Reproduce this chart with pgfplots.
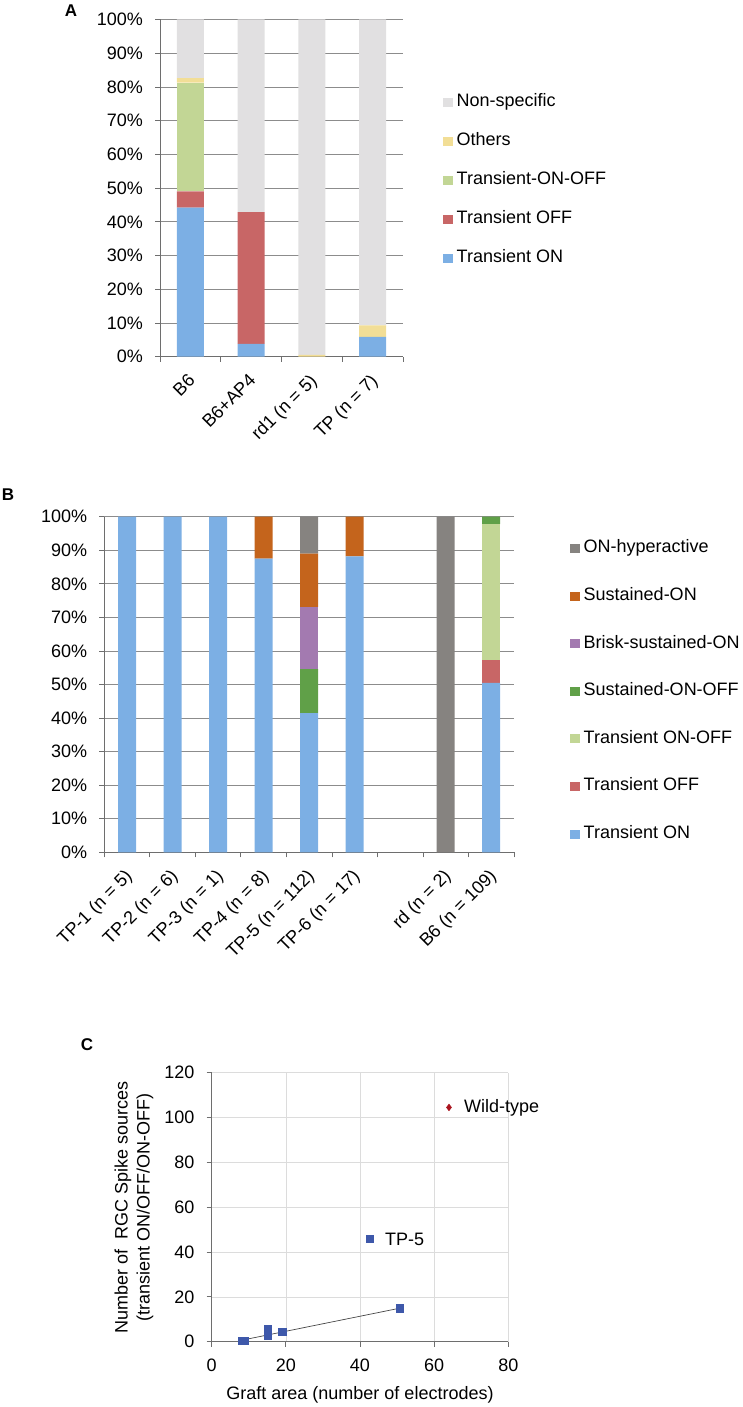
\documentclass[border=0pt]{standalone}
\usepackage{pgfplots}
\pgfplotsset{compat=1.18}
\usepackage{fontspec}
\setmainfont{Liberation Sans}
\definecolor{cON}{RGB}{124,175,228}
\definecolor{cOFF}{RGB}{200,102,102}
\definecolor{cONOFF}{RGB}{194,214,149}
\definecolor{cOth}{RGB}{242,222,150}
\definecolor{cNS}{RGB}{225,224,225}
\definecolor{cSOO}{RGB}{96,160,72}
\definecolor{cBrisk}{RGB}{163,122,176}
\definecolor{cSON}{RGB}{196,100,28}
\definecolor{cHyp}{RGB}{134,131,128}
\definecolor{cSc}{RGB}{62,88,170}
\definecolor{cWT}{RGB}{170,20,30}
\definecolor{cGrid}{RGB}{140,140,140}
\definecolor{cGridC}{RGB}{220,220,220}
\definecolor{cTrend}{RGB}{70,70,70}
\definecolor{cAx}{RGB}{110,110,110}
\begin{document}
\fontsize{18}{21}\selectfont
\begin{tikzpicture}
\useasboundingbox (0pt,0pt) rectangle (743pt,1407pt);
\pgfplotsset{
  lg/.style={legend image code/.code={\fill[##1,draw=none] (0pt,-4.5pt) rectangle (9.5pt,4.5pt);}},
  barax/.style={
    scale only axis, ybar stacked, ymin=0, ymax=100,
    ytick={0,10,...,100},
    yticklabel={\pgfmathprintnumber{\tick}\%},
    /pgf/number format/assume math mode=true,
    ymajorgrids, grid style={cGrid, line width=0.7pt},
    axis x line*=bottom, axis y line*=left,
    axis line style={cAx, line width=0.8pt},
    tick style={cAx, line width=0.8pt},
    tick align=outside,
    major tick length=5pt,
    every major x tick/.style={draw=none},
    minor tick length=5pt,
    every tick label/.style={font=\fontsize{18}{21}\selectfont},
    y tick label style={inner sep=0pt, xshift=-12pt},
    x tick label style={xshift=-3.3pt, yshift=-10.7pt, rotate=45, anchor=north east, inner sep=0pt},
    legend style={draw=none, fill=none, inner sep=0pt, column sep=4pt,
      font=\fontsize{18}{21}\selectfont,
      nodes={inner sep=0pt, text height=13pt, text depth=4pt, anchor=west}},
    reverse legend,
    legend cell align=left,
  }
}
% ---------------- Panel A ----------------
\begin{axis}[barax,
  at={(160pt,1050.3pt)}, anchor=south west,
  width=243pt, height=337.2pt,
  bar width=27pt,
  xmin=-0.5, xmax=3.5,
  xtick={0,1,2,3},
  xticklabels={B6, B6+AP4, rd1 (n = 5), TP (n = 7)},
  minor xtick={-0.5,0.5,1.5,2.5,3.5},
  legend style={at={(1.1646,0.7806)}, anchor=north west, row sep=22pt},
]
\addplot[fill=cON, draw=none, lg] coordinates {(0,44.2) (1,3.8) (2,0) (3,5.9)};
\addlegendentry{Transient ON}
\addplot[fill=cOFF, draw=none, lg] coordinates {(0,4.8) (1,39.1) (2,0) (3,0)};
\addlegendentry{Transient OFF}
\addplot[fill=cONOFF, draw=none, lg] coordinates {(0,32.3) (1,0) (2,0) (3,0)};
\addlegendentry{Transient-ON-OFF}
\addplot[fill=cOth, draw=none, lg] coordinates {(0,1.3) (1,0) (2,0.5) (3,3.4)};
\addlegendentry{Others}
\addplot[fill=cNS, draw=none, lg] coordinates {(0,17.4) (1,57.1) (2,99.5) (3,90.7)};
\addlegendentry{Non-specific}
\end{axis}
% ---------------- Panel B ----------------
\begin{axis}[barax,
  at={(104.3pt,554.7pt)}, anchor=south west,
  width=409.7pt, height=335.6pt,
  bar width=18pt,
  xmin=-0.5, xmax=8.5,
  xtick={0,1,2,3,4,5,7,8},
  xticklabels={TP-1 (n = 5), TP-2 (n = 6), TP-3 (n = 1), TP-4 (n = 8), TP-5 (n = 112), TP-6 (n = 17), rd (n = 2), B6 (n = 109)},
  minor xtick={-0.5,0.5,...,8.5},
  legend style={at={(1.1367,0.9312)}, anchor=north west, row sep=30.6pt},
]
\addplot[fill=cON, draw=none, lg] coordinates {(0,100) (1,100) (2,100) (3,87.5) (4,41.5) (5,88.2) (7,0) (8,50.5)};
\addlegendentry{Transient ON}
\addplot[fill=cOFF, draw=none, lg] coordinates {(0,0) (1,0) (2,0) (3,0) (4,0) (5,0) (7,0) (8,6.8)};
\addlegendentry{Transient OFF}
\addplot[fill=cONOFF, draw=none, lg] coordinates {(0,0) (1,0) (2,0) (3,0) (4,0) (5,0) (7,0) (8,40.5)};
\addlegendentry{Transient ON-OFF}
\addplot[fill=cSOO, draw=none, lg] coordinates {(0,0) (1,0) (2,0) (3,0) (4,13.1) (5,0) (7,0) (8,2.2)};
\addlegendentry{Sustained-ON-OFF}
\addplot[fill=cBrisk, draw=none, lg] coordinates {(0,0) (1,0) (2,0) (3,0) (4,18.5) (5,0) (7,0) (8,0)};
\addlegendentry{Brisk-sustained-ON}
\addplot[fill=cSON, draw=none, lg] coordinates {(0,0) (1,0) (2,0) (3,12.5) (4,15.9) (5,11.8) (7,0) (8,0)};
\addlegendentry{Sustained-ON}
\addplot[fill=cHyp, draw=none, lg] coordinates {(0,0) (1,0) (2,0) (3,0) (4,11.0) (5,0) (7,100) (8,0)};
\addlegendentry{ON-hyperactive}
\end{axis}
% ---------------- Panel C ----------------
\begin{axis}[scale only axis,
  at={(211.7pt,65.3pt)}, anchor=south west,
  width=296.6pt, height=269pt,
  clip=false,
  xmin=0, xmax=80, ymin=0, ymax=120,
  xtick={0,20,...,80}, ytick={0,20,...,120},
  /pgf/number format/assume math mode=true,
  grid=major, grid style={cGridC, line width=0.7pt},
  axis x line*=bottom, axis y line*=left,
  axis line style={cAx, line width=0.8pt},
  tick style={cAx, line width=0.8pt},
  tick align=outside, major tick length=5pt,
  every tick label/.style={font=\fontsize{18}{21}\selectfont},
  y tick label style={inner sep=0pt, xshift=-12pt},
  x tick label style={inner sep=0pt, yshift=-12pt},
  xlabel={Graft area (number of electrodes)},
  ylabel={Number of \ RGC Spike sources\\(transient ON/OFF/ON-OFF)},
  every axis x label/.style={at={(axis description cs:0.5,-0.198)}, anchor=center, font=\fontsize{18}{21}\selectfont},
  every axis y label/.style={at={(axis description cs:-0.262,0.5)}, rotate=90, anchor=center, align=center, font=\fontsize{18}{22}\selectfont},
]
\addplot[color=cTrend, line width=0.7pt] coordinates {(8.5,0.8) (50.6,14.9)};
\addplot[only marks, mark=square*, mark size=3.6pt, color=cSc] coordinates {(8,0.3) (9,0.3) (15.2,5.7) (15.2,2.5) (19,4.5) (50.6,14.9) (42.7,45.8)};
\addplot[only marks, mark=diamond*, mark size=3.4pt, color=cWT] coordinates {(64,104.5)};
\node[anchor=west, font=\fontsize{18}{21}\selectfont] at (axis cs:64,104.5) [xshift=9pt] {Wild-type};
\node[anchor=west, font=\fontsize{18}{21}\selectfont] at (axis cs:42.7,45.8) [xshift=9pt] {TP-5};
\end{axis}
% panel letters
\node[font=\bfseries\fontsize{17}{19}\selectfont] at (71pt,1396pt) {A};
\node[font=\bfseries\fontsize{17}{19}\selectfont] at (8pt,912pt) {B};
\node[font=\bfseries\fontsize{17}{19}\selectfont] at (87pt,362pt) {C};
\end{tikzpicture}
\end{document}
